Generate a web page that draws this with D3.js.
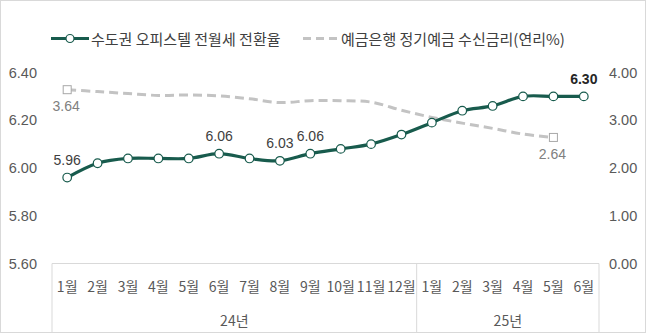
<!DOCTYPE html>
<html>
<head>
<meta charset="utf-8">
<script src="https://cdn.jsdelivr.net/npm/d3@7/dist/d3.min.js"></script>
<style>
  html, body { margin: 0; padding: 0; background: #fff; }
  svg { display: block; }
  text { font-family: "Liberation Sans", Arial, "Noto Sans CJK KR", sans-serif; }
  .kr { font-family: "Noto Sans CJK KR", "Malgun Gothic", sans-serif; }
</style>
</head>
<body>
<svg id="chart" width="646" height="333"></svg>
<script>
// Monthly categories, grouped by year
const months = ["1월","2월","3월","4월","5월","6월","7월","8월","9월","10월","11월","12월",
                "1월","2월","3월","4월","5월","6월"];
const years = [{ label: "24년", count: 12 }, { label: "25년", count: 6 }];

// 수도권 오피스텔 전월세 전환율 (%) — left axis
const conversionRate = [5.96, 6.02, 6.04, 6.04, 6.04, 6.06, 6.04, 6.03, 6.06,
                        6.08, 6.10, 6.14, 6.19, 6.24, 6.26, 6.30, 6.30, 6.30];
// 예금은행 정기예금 수신금리 (연리 %) — right axis, through May 2025
const depositRate = [3.64, 3.60, 3.56, 3.52, 3.53, 3.51, 3.45, 3.37, 3.41,
                     3.41, 3.38, 3.21, 3.06, 2.94, 2.83, 2.71, 2.64];

const leftTicks = [5.60, 5.80, 6.00, 6.20, 6.40];
const rightTicks = [0, 1, 2, 3, 4];
const labeledConversion = [0, 5, 7, 8, 17];
const labeledDeposit = [0, 16];

const seriesNames = ["수도권 오피스텔 전월세 전환율", "예금은행 정기예금 수신금리(연리%)"];

const W = 646, H = 333;
const green = "#185b4d", gray = "#c3c3c3";
const svg = d3.select("#chart");

svg.append("rect").attr("x", 0.5).attr("y", 0.5).attr("width", W - 1).attr("height", H - 1)
  .attr("fill", "#fff").attr("stroke", "#d9d9d9");

const x = d3.scaleBand().domain(d3.range(months.length)).range([52, 599]).paddingInner(0);
const cx = i => x(i) + x.bandwidth() / 2;
const yL = d3.scaleLinear().domain([5.6, 6.4]).range([263.5, 72.5]);
const yR = d3.scaleLinear().domain([0, 4]).range([263.5, 72.5]);

// Left value axis
const leftAxis = d3.axisLeft(yL).tickValues(leftTicks).tickSize(0).tickPadding(0)
  .tickFormat(d3.format(".2f"));
svg.append("g").attr("transform", "translate(37,0)").call(leftAxis)
  .call(g => g.select(".domain").remove())
  .selectAll("text").attr("fill", "#595959").style("font-size", "14.5px")
  .style("font-family", "Liberation Sans, Arial, sans-serif");

// Right value axis
const rightAxis = d3.axisRight(yR).tickValues(rightTicks).tickSize(0).tickPadding(0)
  .tickFormat(d3.format(".2f"));
svg.append("g").attr("transform", "translate(609,0)").call(rightAxis)
  .call(g => g.select(".domain").remove())
  .selectAll("text").attr("fill", "#595959").style("font-size", "14.5px")
  .style("font-family", "Liberation Sans, Arial, sans-serif");

// Category axis: months over years, with group separators
const axisG = svg.append("g");
axisG.append("line").attr("x1", 52).attr("x2", 599).attr("y1", 263.5).attr("y2", 263.5)
  .attr("stroke", "#d9d9d9");
let acc = 0;
const bounds = [0];
years.forEach(yv => { acc += yv.count; bounds.push(acc); });
axisG.selectAll("line.sep").data(bounds).join("line").attr("class", "sep")
  .attr("x1", d => d < months.length ? x(d) : x.range()[1])
  .attr("x2", d => d < months.length ? x(d) : x.range()[1])
  .attr("y1", 263.5).attr("y2", 332).attr("stroke", "#d9d9d9");
axisG.selectAll("text.month").data(months).join("text").attr("class", "month kr")
  .attr("x", (d, i) => cx(i)).attr("y", 286).attr("text-anchor", "middle")
  .attr("dominant-baseline", "central").attr("fill", "#595959").style("font-size", "14px")
  .text(d => d);
let start = 0;
years.forEach(yv => {
  const x0 = x(start), x1 = start + yv.count < months.length ? x(start + yv.count) : x.range()[1];
  axisG.append("text").attr("class", "kr").attr("x", (x0 + x1) / 2).attr("y", 320)
    .attr("text-anchor", "middle").attr("dominant-baseline", "central")
    .attr("fill", "#595959").style("font-size", "14px").text(yv.label);
  start += yv.count;
});

// Deposit rate line (dashed, smoothed)
const lineR = d3.line().x((d, i) => cx(i)).y(d => yR(d)).curve(d3.curveCatmullRom.alpha(0.5));
svg.append("path").datum(depositRate).attr("d", lineR).attr("fill", "none")
  .attr("stroke", gray).attr("stroke-width", 3).attr("stroke-dasharray", "9,5");
svg.selectAll("rect.dmark").data(labeledDeposit).join("rect").attr("class", "dmark")
  .attr("x", i => cx(i) - 4).attr("y", i => yR(depositRate[i]) - 4)
  .attr("width", 8).attr("height", 8).attr("fill", "#fff").attr("stroke", "#a8a8a8");
svg.selectAll("text.dlab").data(labeledDeposit).join("text").attr("class", "dlab")
  .attr("x", i => cx(i) - 1).attr("y", i => yR(depositRate[i]) + 16.5)
  .attr("text-anchor", "middle").attr("dominant-baseline", "central")
  .attr("fill", "#808080").style("font-size", "14px")
  .text(i => depositRate[i].toFixed(2));

// Conversion rate line (solid, smoothed) with markers
const lineL = d3.line().x((d, i) => cx(i)).y(d => yL(d)).curve(d3.curveCatmullRom.alpha(0.5));
svg.append("path").datum(conversionRate).attr("d", lineL).attr("fill", "none")
  .attr("stroke", green).attr("stroke-width", 3.2).attr("stroke-linejoin", "round");
svg.selectAll("circle.cmark").data(conversionRate).join("circle").attr("class", "cmark")
  .attr("cx", (d, i) => cx(i)).attr("cy", d => yL(d)).attr("r", 4.3)
  .attr("fill", "#fff").attr("stroke", green).attr("stroke-width", 1.2);
svg.selectAll("text.clab").data(labeledConversion).join("text").attr("class", "clab")
  .attr("x", i => cx(i)).attr("y", i => yL(conversionRate[i]) - 17.5)
  .attr("text-anchor", "middle").attr("dominant-baseline", "central")
  .attr("fill", i => i === months.length - 1 ? "#262626" : "#404040")
  .style("font-size", "14px")
  .style("font-weight", i => i === months.length - 1 ? "bold" : "normal")
  .text(i => conversionRate[i].toFixed(2));

// Legend
const leg = svg.append("g");
leg.append("line").attr("x1", 51).attr("x2", 89).attr("y1", 38.5).attr("y2", 38.5)
  .attr("stroke", green).attr("stroke-width", 3.2);
leg.append("circle").attr("cx", 70).attr("cy", 38.5).attr("r", 4).attr("fill", "#fff")
  .attr("stroke", green).attr("stroke-width", 1.2);
leg.append("text").attr("class", "kr").attr("x", 91).attr("y", 38.5)
  .attr("dominant-baseline", "central").attr("fill", "#404040").style("font-size", "15px")
  .text(seriesNames[0]);
leg.append("line").attr("x1", 303).attr("x2", 337).attr("y1", 38.5).attr("y2", 38.5)
  .attr("stroke", gray).attr("stroke-width", 3).attr("stroke-dasharray", "8,5");
leg.append("text").attr("class", "kr").attr("x", 341).attr("y", 38.5)
  .attr("dominant-baseline", "central").attr("fill", "#404040").style("font-size", "15px")
  .text(seriesNames[1]);
</script>
</body>
</html>
